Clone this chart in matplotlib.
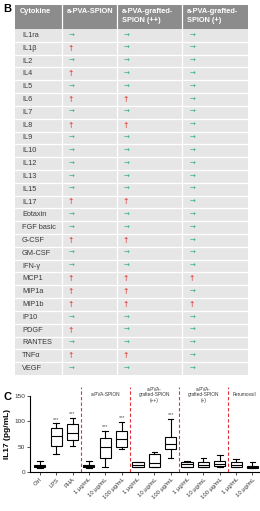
import matplotlib
matplotlib.use('Agg')
import matplotlib.pyplot as plt
from matplotlib.patches import Rectangle

plt.rcParams['font.family'] = ['Liberation Sans', 'DejaVu Sans']

# ---- table data (B) ----
cytokines = ['IL1ra', 'IL1β', 'IL2', 'IL4', 'IL5', 'IL6', 'IL7', 'IL8', 'IL9',
             'IL10', 'IL12', 'IL13', 'IL15', 'IL17', 'Eotaxin', 'FGF basic',
             'G-CSF', 'GM-CSF', 'IFN-γ', 'MCP1', 'MIP1a', 'MIP1b', 'IP10',
             'PDGF', 'RANTES', 'TNFα', 'VEGF']
# 1 = up (red), 0 = unchanged (green)
spion = [0, 1, 0, 1, 0, 1, 0, 1, 0, 0, 0, 0, 0, 1, 0, 0, 1, 0, 0, 1, 1, 1, 0, 1, 0, 1, 0]
grafted_pp = [0, 0, 0, 0, 0, 1, 0, 1, 0, 0, 0, 0, 0, 1, 0, 0, 1, 0, 0, 1, 1, 1, 0, 0, 0, 1, 0]
grafted_p = [0, 0, 0, 0, 0, 0, 0, 0, 0, 0, 0, 0, 0, 0, 0, 0, 0, 0, 0, 1, 0, 1, 0, 0, 0, 0, 0]
headers = ['Cytokine', 'a-PVA-SPION', 'a-PVA-grafted-\nSPION (++)', 'a-PVA-grafted-\nSPION (+)']

# ---- box plot data (C) ----
labels = ['Ctrl', 'LPS', 'PHA', '1 µg/mL', '10 µg/mL', '100 µg/mL',
          '1 µg/mL', '10 µg/mL', '100 µg/mL', '1 µg/mL', '10 µg/mL', '100 µg/mL',
          '1 µg/mL', '10 µg/mL']
whislo = [8, 35, 52, 8, 10, 45, 10, 10, 28, 10, 10, 10, 10, 7]
q1 = [10, 52, 64, 10, 28, 50, 10, 10, 46, 10, 10, 11, 10, 8]
med = [12, 72, 77, 12, 50, 66, 13, 18, 55, 15, 14, 15, 13, 10]
q3 = [14, 86, 95, 14, 68, 80, 20, 35, 70, 20, 20, 22, 20, 11]
whishi = [21, 96, 107, 21, 81, 99, 20, 40, 105, 21, 28, 33, 25, 20]
signif = ['', '***', '***', '', '***', '***', '', '', '***', '', '', '', '', '']
group_names = ['a-PVA-SPION', 'a-PVA-\ngrafted-SPION\n(++)', 'a-PVA-\ngrafted-SPION\n(+)', 'Ferumoxsil']
group_centers = [4, 7, 10, 12.5]
dividers = [2.5, 5.5, 8.5, 11.5]

fig = plt.figure(figsize=(2.6, 5.11), dpi=100)

# ---------------- table ----------------
tab = fig.add_axes([0, 0, 1, 1])
tab.set_xlim(0, 260)
tab.set_ylim(511, 0)
tab.axis('off')

col_x = [15, 62, 117, 182, 248]
head_top, head_bot = 5, 29
row_h = (375 - head_bot) / len(cytokines)
green = '#2fb27a'
red = '#e3342f'

tab.add_patch(Rectangle((col_x[0], head_top), col_x[-1] - col_x[0], head_bot - head_top,
                        facecolor='#8c8c8c', edgecolor='none'))
tab.add_patch(Rectangle((col_x[0], head_bot), col_x[-1] - col_x[0], row_h * len(cytokines),
                        facecolor='#e6e6e6', edgecolor='none'))
for i in range(1, len(cytokines)):
    y = head_bot + i * row_h
    tab.plot([col_x[0], col_x[-1]], [y, y], color='white', lw=0.9)
for x in col_x[1:-1]:
    tab.plot([x, x], [head_top, 375], color='white', lw=0.9)

for j, h in enumerate(headers):
    tab.text(col_x[j] + 5, head_top + 3, h, ha='left', va='top', fontsize=5.3,
             fontweight='bold', color='white', linespacing=1.35)

arrow_x = [69, 124, 190]
for i, name in enumerate(cytokines):
    yc = head_bot + (i + 0.5) * row_h
    tab.text(col_x[0] + 7, yc, name, ha='left', va='center', fontsize=5.3, color='#3a3a3a')
    for k, vals in enumerate([spion, grafted_pp, grafted_p]):
        if vals[i]:
            tab.text(arrow_x[k] + 2, yc, '↑', ha='center', va='center', fontsize=5.5,
                     color=red, family='DejaVu Sans')
        else:
            tab.text(arrow_x[k], yc, '→', ha='left', va='center', fontsize=5.0,
                     color=green, family='DejaVu Sans')

fig.text(3 / 260, 1 - 12 / 511, 'B', fontsize=8, fontweight='bold')
fig.text(3 / 260, 1 - 400 / 511, 'C', fontsize=8, fontweight='bold')

# ---------------- box plot ----------------
ax = fig.add_axes([30 / 260, 1 - 472 / 511, 229 / 260, 76 / 511])
stats = []
for i in range(len(labels)):
    stats.append(dict(whislo=whislo[i], q1=q1[i], med=med[i], q3=q3[i], whishi=whishi[i], fliers=[]))
ax.bxp(stats, positions=range(len(labels)), widths=0.68, showfliers=False, patch_artist=True,
       boxprops=dict(facecolor='white', edgecolor='black', linewidth=0.8),
       medianprops=dict(color='black', linewidth=0.8),
       whiskerprops=dict(color='black', linewidth=0.8),
       capprops=dict(color='black', linewidth=0.8), capwidths=0.34)

for i, s in enumerate(signif):
    if s:
        ax.text(i, whishi[i] + 3, s, ha='center', va='bottom', fontsize=4, color='#555555')

for d in dividers:
    ax.axvline(d, ymin=0, ymax=1.12, color='#e0323a', ls=(0, (3, 2)), lw=0.8, clip_on=False)

for c, g in zip(group_centers, group_names):
    ax.text(c, 152, g, ha='center', va='center', fontsize=3.4, color='#333333', linespacing=1.2)

ax.set_xlim(-0.6, 13.4)
ax.set_ylim(0, 150)
ax.set_yticks([0, 50, 100, 150])
ax.set_xticks(range(len(labels)))
ax.set_xticklabels(labels, rotation=45, ha='right', rotation_mode='anchor', fontsize=4.2)
ax.tick_params(axis='y', labelsize=4.6, length=2, width=0.6, pad=1.5, colors='#333333')
ax.tick_params(axis='x', length=2, width=0.6, pad=1.5, colors='#333333')
ax.set_ylabel('IL17 (pg/mL)', fontsize=6, fontweight='bold', labelpad=2)
ax.spines['top'].set_visible(False)
ax.spines['right'].set_visible(False)
for sp in ['left', 'bottom']:
    ax.spines[sp].set_linewidth(0.8)
ax.patch.set_alpha(0)

fig.savefig('out.png', dpi=100)
